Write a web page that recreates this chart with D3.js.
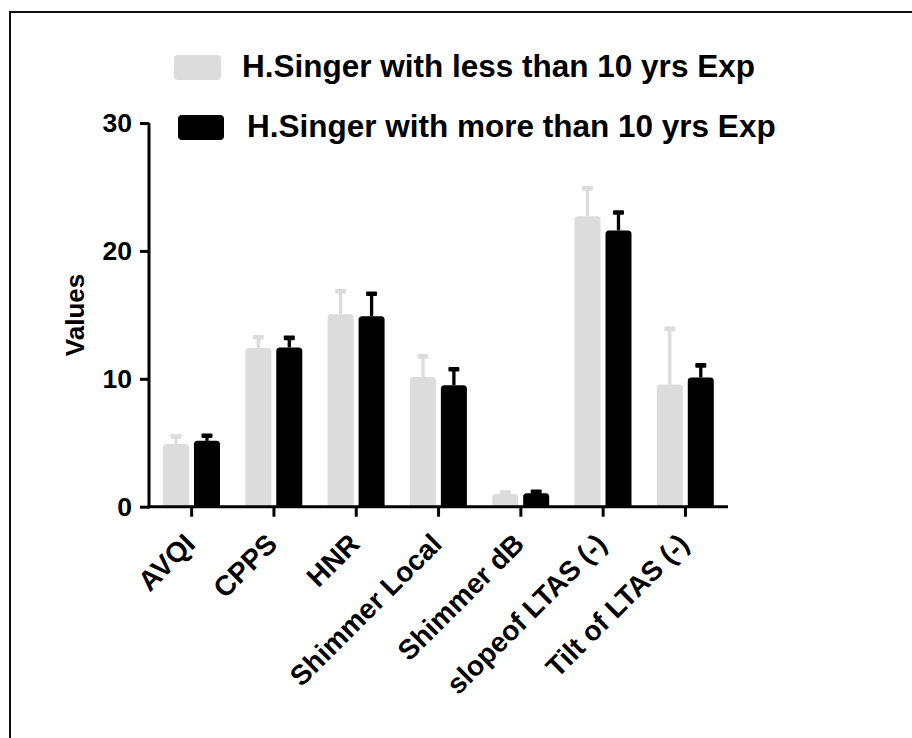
<!DOCTYPE html>
<html>
<head>
<meta charset="utf-8">
<script src="https://cdn.jsdelivr.net/npm/d3@7"></script>
<style>
  body { margin: 0; background: #fff; }
  text { font-family: "Liberation Sans", Arial, sans-serif; font-weight: bold; }
</style>
</head>
<body>
<div id="chart"></div>
<script>
// categories and values
const categories = ["AVQI", "CPPS", "HNR", "Shimmer Local", "Shimmer dB", "slopeof LTAS (-)", "Tilt of LTAS (-)"];
const seriesNames = ["H.Singer with less than 10 yrs Exp", "H.Singer with more than 10 yrs Exp"];
const lessMean = [4.9, 12.4, 15.05, 10.15, 1.0, 22.7, 9.55];
const lessErr = [0.6, 0.85, 1.8, 1.6, 0.1, 2.2, 4.35];
const moreMean = [5.15, 12.45, 14.9, 9.5, 1.05, 21.6, 10.1];
const moreErr = [0.4, 0.75, 1.75, 1.25, 0.12, 1.4, 0.95];
const yTicks = [0, 10, 20, 30];
const colors = ["#dcdcdc", "#000000"];

const W = 912, H = 738;
const svg = d3.select("#chart").append("svg")
  .attr("width", W)
  .attr("height", H);

svg.append("rect")
  .attr("x", 10).attr("y", 12)
  .attr("width", 920).attr("height", 760)
  .attr("fill", "#fff")
  .attr("stroke", "#111")
  .attr("stroke-width", 2);

const axisX0 = 149, axisX1 = 728;
const y = d3.scaleLinear().domain([0, 30]).range([506.7, 123]);
const x0 = d3.scaleBand().domain(categories).range([150.5, 726.6]);
const x1 = d3.scaleBand().domain(seriesNames).range([12.5, 69.5]).paddingInner(0.16);

// build rows for the bars
const rows = [];
categories.forEach((c, i) => {
  rows.push({ cat: c, s: seriesNames[0], v: lessMean[i], e: lessErr[i], col: colors[0] });
  rows.push({ cat: c, s: seriesNames[1], v: moreMean[i], e: moreErr[i], col: colors[1] });
});

// bar with rounded top corners
const barPath = (bx, by, bw, bh, r) => {
  r = Math.min(r, bh, bw / 2);
  return `M${bx},${by + bh}V${by + r}Q${bx},${by} ${bx + r},${by}H${bx + bw - r}Q${bx + bw},${by} ${bx + bw},${by + r}V${by + bh}Z`;
};

const g = svg.append("g");
const bw = x1.bandwidth();

// error bars (upper only)
g.selectAll("line.err")
  .data(rows)
  .join("line")
  .attr("class", "err")
  .attr("x1", d => x0(d.cat) + x1(d.s) + bw / 2)
  .attr("x2", d => x0(d.cat) + x1(d.s) + bw / 2)
  .attr("y1", d => y(d.v))
  .attr("y2", d => y(d.v + d.e))
  .attr("stroke", d => d.col)
  .attr("stroke-width", 3.3);

g.selectAll("rect.cap")
  .data(rows)
  .join("rect")
  .attr("class", "cap")
  .attr("x", d => x0(d.cat) + x1(d.s) + bw / 2 - 5.5)
  .attr("y", d => y(d.v + d.e) - 2.3)
  .attr("width", 11)
  .attr("height", 4.6)
  .attr("rx", 1)
  .attr("fill", d => d.col);

g.selectAll("path.bar")
  .data(rows)
  .join("path")
  .attr("class", "bar")
  .attr("d", d => barPath(x0(d.cat) + x1(d.s), y(d.v), bw, y(0) - y(d.v), 3.5))
  .attr("fill", d => d.col);

// y axis
const yAxis = svg.append("g")
  .attr("transform", `translate(${axisX0},0)`)
  .call(d3.axisLeft(y).tickValues(yTicks).tickSize(9).tickPadding(8).tickSizeOuter(0));
yAxis.select(".domain").attr("stroke-width", 3).attr("d", `M0,${y(30)}V${y(0) + 1.5}`);
yAxis.selectAll(".tick line").attr("stroke-width", 3);
yAxis.selectAll(".tick text").style("font-size", "26.5px").attr("fill", "#000");

// x axis
const xAxis = svg.append("g")
  .attr("transform", `translate(0,${y(0)})`)
  .call(d3.axisBottom(x0).tickSize(10).tickSizeOuter(0));
xAxis.select(".domain").attr("stroke-width", 3).attr("d", `M${axisX0 - 1.5},0H${axisX1}`);
xAxis.selectAll(".tick line").attr("stroke-width", 3);
xAxis.selectAll(".tick text")
  .style("font-size", "28px")
  .attr("fill", "#000")
  .attr("text-anchor", "end")
  .attr("dy", null)
  .attr("y", null)
  .attr("transform", "translate(5,39) rotate(-45)");

// y axis title
svg.append("text")
  .attr("transform", "translate(84,315) rotate(-90)")
  .attr("text-anchor", "middle")
  .style("font-size", "26px")
  .text("Values");

// legend
const legend = svg.append("g");
const legendRows = [
  { name: seriesNames[0], col: colors[0], rx: 174, ry: 55, rw: 47, tx: 242, ty: 76.7 },
  { name: seriesNames[1], col: colors[1], rx: 178, ry: 115, rw: 46, tx: 247, ty: 136.7 }
];
legend.selectAll("rect")
  .data(legendRows)
  .join("rect")
  .attr("x", d => d.rx).attr("y", d => d.ry)
  .attr("width", d => d.rw).attr("height", 25)
  .attr("rx", 4)
  .attr("fill", d => d.col);
legend.selectAll("text")
  .data(legendRows)
  .join("text")
  .attr("x", d => d.tx).attr("y", d => d.ty)
  .style("font-size", "31.5px")
  .text(d => d.name);
</script>
</body>
</html>
